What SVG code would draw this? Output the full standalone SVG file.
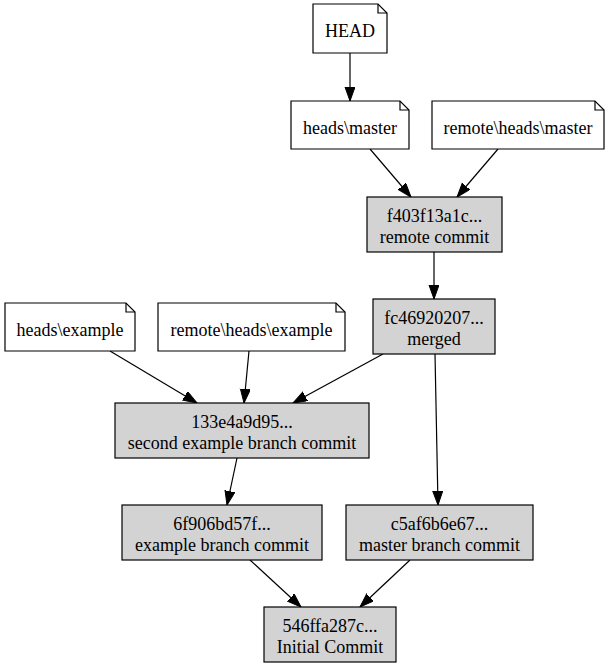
<svg xmlns="http://www.w3.org/2000/svg" width="610" height="668" viewBox="0 0 610 668">
<defs>
<style>
.note{fill:#ffffff;stroke:#000;stroke-width:1.2}
.commit{fill:#d3d3d3;stroke:#000;stroke-width:1.2}
.fold{fill:none;stroke:#000;stroke-width:1.2}
text{font-family:"Liberation Serif","Times New Roman",serif;font-size:18px;fill:#000;text-anchor:middle}
.edge{stroke:#000;stroke-width:1.2;fill:none;marker-end:url(#arrow)}
</style>
<marker id="arrow" markerUnits="userSpaceOnUse" markerWidth="15" markerHeight="11" refX="14" refY="5" orient="auto">
<path d="M0,0 L14,5 L0,10 Z" fill="#000" stroke="#000" stroke-width="1"/>
</marker>
</defs>
<rect width="610" height="668" fill="#fff"/>
<g id="connectors">
<line class="edge" x1="350" y1="53" x2="350" y2="101"/>
<line class="edge" x1="370" y1="149" x2="411" y2="197"/>
<line class="edge" x1="498" y1="149" x2="457" y2="197"/>
<line class="edge" x1="434" y1="252" x2="434" y2="299"/>
<line class="edge" x1="110" y1="351" x2="197" y2="403"/>
<line class="edge" x1="249" y1="351" x2="244" y2="403"/>
<line class="edge" x1="383" y1="354" x2="293" y2="403"/>
<line class="edge" x1="435" y1="354" x2="438" y2="505"/>
<line class="edge" x1="237" y1="458" x2="227" y2="505"/>
<line class="edge" x1="250" y1="560" x2="301" y2="607"/>
<line class="edge" x1="410" y1="560" x2="360" y2="607"/>
</g>
<g id="HEAD">
<path class="note" d="M313,4 H378 L387,13 V53 H313 Z"/>
<path class="fold" d="M378,4 V13 H387"/>
<text x="350" y="36.5">HEAD</text>
</g>
<g id="heads_master">
<path class="note" d="M291,101 H400 L409,110 V149 H291 Z"/>
<path class="fold" d="M400,101 V110 H409"/>
<text x="350" y="133.5">heads\master</text>
</g>
<g id="remote_heads_master">
<path class="note" d="M432,101 H595 L604,110 V149 H432 Z"/>
<path class="fold" d="M595,101 V110 H604"/>
<text x="518" y="133.5">remote\heads\master</text>
</g>
<g id="f403f13a1c">
<rect class="commit" x="367" y="197" width="135" height="55"/>
<text x="434.5" y="221.5">f403f13a1c...</text>
<text x="434.5" y="242.5">remote commit</text>
</g>
<g id="heads_example">
<path class="note" d="M5,303 H126 L135,312 V351 H5 Z"/>
<path class="fold" d="M126,303 V312 H135"/>
<text x="70" y="335.5">heads\example</text>
</g>
<g id="remote_heads_example">
<path class="note" d="M158,303 H336 L345,312 V351 H158 Z"/>
<path class="fold" d="M336,303 V312 H345"/>
<text x="251.5" y="335.5">remote\heads\example</text>
</g>
<g id="fc46920207">
<rect class="commit" x="373" y="299" width="122" height="55"/>
<text x="434" y="323.5">fc46920207...</text>
<text x="434" y="344.5">merged</text>
</g>
<g id="c133e4a9d95">
<rect class="commit" x="115" y="403" width="254" height="55"/>
<text x="242" y="427.5">133e4a9d95...</text>
<text x="242" y="448.5">second example branch commit</text>
</g>
<g id="c6f906bd57f">
<rect class="commit" x="122" y="505" width="200" height="55"/>
<text x="222" y="529.5">6f906bd57f...</text>
<text x="222" y="550.5">example branch commit</text>
</g>
<g id="c5af6b6e67">
<rect class="commit" x="346" y="505" width="187" height="55"/>
<text x="439.5" y="529.5">c5af6b6e67...</text>
<text x="439.5" y="550.5">master branch commit</text>
</g>
<g id="c546ffa287c">
<rect class="commit" x="264" y="607" width="132" height="55"/>
<text x="330" y="631.5">546ffa287c...</text>
<text x="330" y="652.5">Initial Commit</text>
</g>
</svg>
